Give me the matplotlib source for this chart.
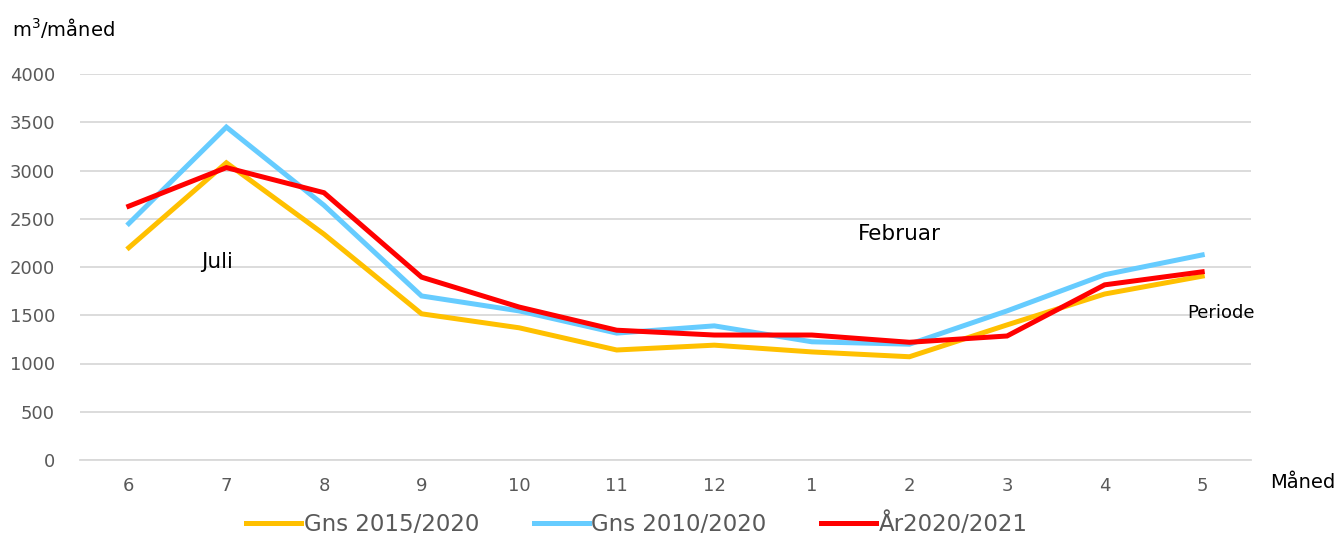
import matplotlib
matplotlib.use("Agg")
import matplotlib.pyplot as plt

months = ["6", "7", "8", "9", "10", "11", "12", "1", "2", "3", "4", "5"]
gns_2015_2020 = [2200, 3080, 2340, 1515, 1370, 1140, 1190, 1120, 1070, 1400, 1720, 1905]
gns_2010_2020 = [2450, 3450, 2640, 1700, 1545, 1315, 1390, 1225, 1200, 1545, 1920, 2125]
aar_2020_2021 = [2630, 3030, 2770, 1895, 1585, 1345, 1295, 1295, 1220, 1285, 1815, 1950]

labels = ["Gns 2015/2020", "Gns 2010/2020", "År2020/2021"]
colors = ["#FFC000", "#66CCFF", "#FF0000"]

fig = plt.figure(figsize=(13.41, 5.35), dpi=100)
ax = fig.add_axes([80 / 1341, 1 - 460 / 535, (1251 - 80) / 1341, (460 - 74) / 535])

x = list(range(len(months)))
for series, lab, col in zip([gns_2015_2020, gns_2010_2020, aar_2020_2021], labels, colors):
    ax.plot(x, series, color=col, lw=3.6, label=lab, solid_joinstyle="miter")

ax.set_xlim(-0.5, len(months) - 0.5)
ax.set_ylim(0, 4000)
ax.set_yticks(range(0, 4001, 500))
ax.set_xticks(x)
ax.set_xticklabels(months)
ax.grid(axis="y", color="#D9D9D9", lw=1.3)
ax.set_axisbelow(True)
for s in ["top", "right", "left"]:
    ax.spines[s].set_visible(False)
ax.spines["bottom"].set_color("#D9D9D9")
ax.spines["bottom"].set_linewidth(1.3)
ax.tick_params(length=0, colors="#595959", labelsize=13)
ax.tick_params(axis="x", pad=12)
ax.tick_params(axis="y", pad=18)

# annotations
ax.text(0.9, 2050, "Juli", fontsize=15.5, ha="center", va="center")
ax.text(7.9, 2340, "Februar", fontsize=15.5, ha="center", va="center")
fig.text(1221 / 1341, 1 - 313 / 535, "Periode", fontsize=13, ha="center", va="center")
fig.text(1303 / 1341, 1 - 483 / 535, "Måned", fontsize=14, ha="center", va="center")
fig.text(12 / 1341, 1 - 28 / 535, "m$^3$/måned", fontsize=14, ha="left", va="center")

fig.legend(loc="center", bbox_to_anchor=(637 / 1341, 1 - 524 / 535), ncol=3, frameon=False,
           fontsize=16.5, handlelength=2.4, columnspacing=2.4, handletextpad=0.1,
           labelcolor="#595959")

fig.savefig("out.png", dpi=100)
